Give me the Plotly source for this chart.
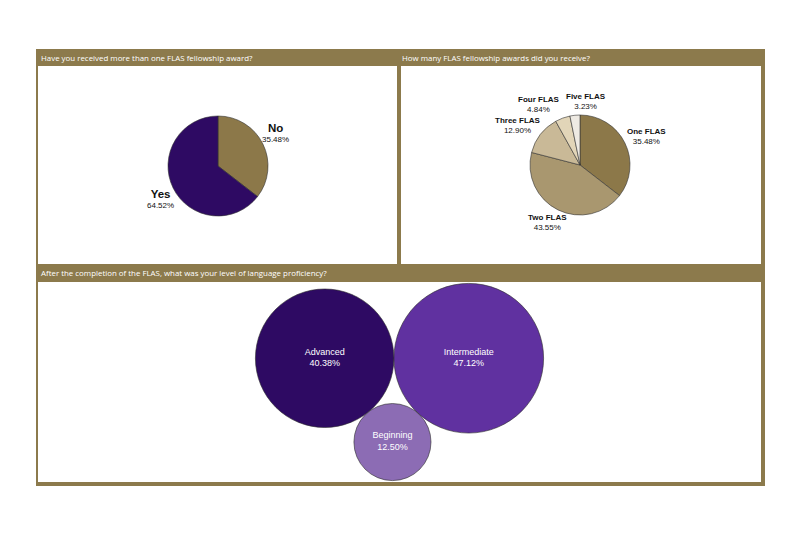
import math
import plotly.graph_objects as go

W, H = 800, 534
OFF = 8  # page body margin

# ---- data ----
q1_title = "Have you received more than one FLAS fellowship award?"
q1_labels = ["No", "Yes"]
q1_values = [35.48, 64.52]
q1_colors = ["#8C7849", "#2E0A63"]

q2_title = "How many FLAS fellowship awards did you receive?"
q2_labels = ["One FLAS", "Two FLAS", "Three FLAS", "Four FLAS", "Five FLAS"]
q2_values = [35.48, 43.55, 12.90, 4.84, 3.23]
q2_colors = ["#8C7849", "#A9976F", "#C9B997", "#E2D5B8", "#EEEAE3"]

q3_title = "After the completion of the FLAS, what was your level of language proficiency?"
q3_labels = ["Advanced", "Intermediate", "Beginning"]
q3_values = [40.38, 47.12, 12.50]
q3_colors = ["#2E0A63", "#6031A0", "#8C6CB4"]

BROWN = "#8C7A4C"


def px(x):
    return (x - OFF) / W


def py(y):
    return 1 - (y - OFF) / H


fig = go.Figure()
annotations = []

# ---- pies ----
pie_boxes = [(168, 116, 268, 216), (530, 115, 630, 215)]  # x0, y0, x1, y1 in page pixels
# (labels, values, colors, label formatter, label char width, pct char width, box height, gap)
pie_sets = [
    (q1_labels, q1_values, q1_colors,
     lambda l, v: f"<b><span style='font-size:11.5px'>{l}</span></b><br>{v:.2f}%", 7.0, 4.0, 44.0, 2.0),
    (q2_labels, q2_values, q2_colors,
     lambda l, v: f"<b>{l}</b><br>{v:.2f}%", 4.8, 4.2, 18.0, 5.0),
]

for (labels, values, colors, fmt, cwl, cwp, hl, gap), (x0, y0, x1, y1) in zip(pie_sets, pie_boxes):
    fig.add_trace(go.Pie(
        labels=labels, values=values, sort=False, direction="clockwise", rotation=0,
        marker=dict(colors=colors, line=dict(color="#333333", width=0.6)),
        textinfo="none",
        domain=dict(x=[px(x0), px(x1)], y=[py(y1), py(y0)]),
        showlegend=False, hoverinfo="label+percent",
    ))
    cxp, cyp = (x0 + x1) / 2, (y0 + y1) / 2
    rad = (x1 - x0) / 2
    total = sum(values)
    acc = 0.0
    boxes = []
    for l, v in zip(labels, values):
        mid = (acc + v / 2) / total * 2 * math.pi
        acc += v
        s, c = math.sin(mid), math.cos(mid)
        wl = max(len(l) * cwl, len(f"{v:.2f}%") * cwp)
        ax0 = cxp + (rad + gap) * s
        ay0 = cyp - (rad + gap) * c
        lx = ax0 + wl / 2 * s
        ly = ay0 - hl / 2 * c
        boxes.append([lx, ly, wl, min(hl, 20.0), fmt(l, v)])
    # horizontal separation of overlapping labels
    for _ in range(10):
        for i in range(len(boxes)):
            for j in range(i + 1, len(boxes)):
                a, b = boxes[i], boxes[j]
                ox = (a[2] + b[2]) / 2 + 4 - abs(a[0] - b[0])
                oy = (a[3] + b[3]) / 2 - abs(a[1] - b[1])
                if ox > 0 and oy > 0:
                    sg = 1 if b[0] >= a[0] else -1
                    a[0] -= sg * ox / 2
                    b[0] += sg * ox / 2
    for lx, ly, wl, hh, txt in boxes:
        annotations.append(dict(
            text=txt, xref="paper", yref="paper", x=px(lx), y=py(ly),
            xanchor="center", yanchor="middle", showarrow=False, align="center",
            font=dict(family="Liberation Sans, Arial", size=8, color="#111111"),
        ))

# ---- bubbles (packed from their sizes) ----
K = 10.9
r = [K * math.sqrt(v) for v in q3_values]
ax_, ay_ = 0.0, 0.0
ix_, iy_ = r[0] + r[1], 0.0
d = ix_
dab = r[0] + r[2]
dib = r[1] + r[2]
bx_ = (dab ** 2 - dib ** 2 + d ** 2) / (2 * d)
by_ = -math.sqrt(max(dab ** 2 - bx_ ** 2, 0))
xs = [ax_, ix_, bx_]
ys = [ay_, iy_, by_]
left = min(x - rr for x, rr in zip(xs, r))
right = max(x + rr for x, rr in zip(xs, r))
bottom = min(y - rr for y, rr in zip(ys, r))
top = max(y + rr for y, rr in zip(ys, r))
cx, cy = (left + right) / 2, (bottom + top) / 2

PW = 761 - 38
PH = 482 - 282
fig.add_trace(go.Scatter(
    x=[x - cx for x in xs], y=[y - cy for y in ys],
    mode="markers+text",
    marker=dict(size=[2 * rr for rr in r], sizemode="diameter", color=q3_colors,
                opacity=1, line=dict(color="#2a2a2a", width=0.6)),
    text=[f"{l}<br>{v:.2f}%" for l, v in zip(q3_labels, q3_values)],
    textposition="middle center",
    textfont=dict(family="Liberation Sans, Arial", size=9, color="white"),
    showlegend=False, hoverinfo="text", cliponaxis=False,
    xaxis="x", yaxis="y",
))

shapes = [
    dict(type="rect", xref="paper", yref="paper", x0=px(36), x1=px(765), y0=py(486), y1=py(49),
         fillcolor=BROWN, line=dict(width=0), layer="below"),
    dict(type="rect", xref="paper", yref="paper", x0=px(38), x1=px(397), y0=py(264), y1=py(66),
         fillcolor="white", line=dict(width=0), layer="below"),
    dict(type="rect", xref="paper", yref="paper", x0=px(401), x1=px(761), y0=py(264), y1=py(66),
         fillcolor="white", line=dict(width=0), layer="below"),
    dict(type="rect", xref="paper", yref="paper", x0=px(38), x1=px(761), y0=py(482), y1=py(282),
         fillcolor="white", line=dict(width=0), layer="below"),
]

hfont = dict(family="Open Sans, Noto Sans", size=7.9, color="white")
annotations += [
    dict(text=q1_title, xref="paper", yref="paper", x=px(39), y=py(58.5), xanchor="left", yanchor="middle",
         showarrow=False, font=hfont),
    dict(text=q2_title, xref="paper", yref="paper", x=px(400), y=py(58.5), xanchor="left", yanchor="middle",
         showarrow=False, font=hfont),
    dict(text=q3_title, xref="paper", yref="paper", x=px(39), y=py(273), xanchor="left", yanchor="middle",
         showarrow=False, font=hfont),
]

fig.update_layout(
    width=W, height=H, margin=dict(l=0, r=0, t=0, b=0),
    paper_bgcolor="white", plot_bgcolor="rgba(0,0,0,0)",
    shapes=shapes, annotations=annotations,
    xaxis=dict(domain=[px(38), px(761)], range=[-PW / 2, PW / 2], visible=False, fixedrange=True),
    yaxis=dict(domain=[py(482), py(282)], range=[-PH / 2, PH / 2], visible=False, fixedrange=True),
)

fig.write_html("out.html")
